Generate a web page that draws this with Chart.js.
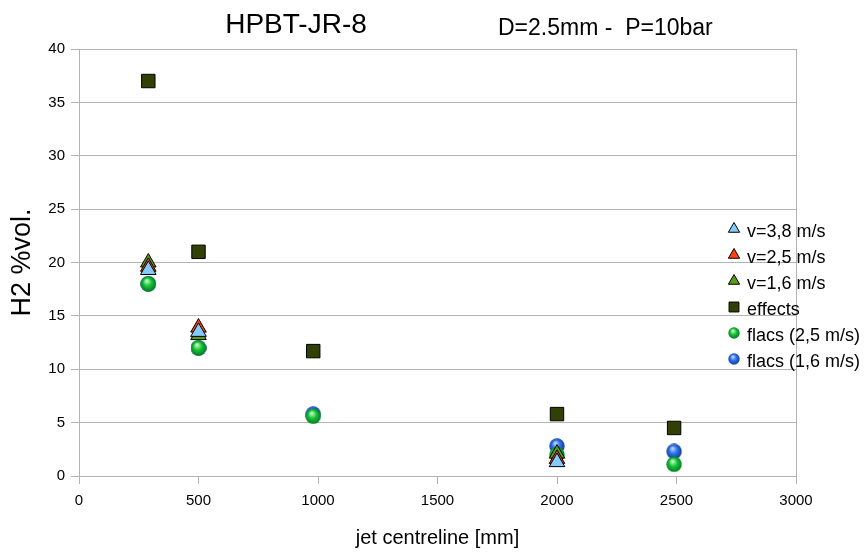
<!DOCTYPE html>
<html>
<head>
<meta charset="utf-8">
<script src="https://cdn.jsdelivr.net/npm/chart.js@4.4.1/dist/chart.umd.min.js"></script>
<style>
  html, body { margin: 0; padding: 0; background: #ffffff; }
  #wrap { width: 864px; height: 552px; position: relative; }
</style>
</head>
<body>
<div id="wrap"><canvas id="c" width="864" height="552"></canvas></div>
<script>
// ---- data ----
const chartTitle = "HPBT-JR-8";
const chartSubtitle = "D=2.5mm -  P=10bar";
const xAxisTitle = "jet centreline [mm]";
const yAxisTitle = "H2 %vol.";
const seriesNames = ["v=3,8 m/s", "v=2,5 m/s", "v=1,6 m/s", "effects", "flacs (2,5 m/s)", "flacs (1,6 m/s)"];

const xV38 = [290, 500, 2000];
const yV38 = [19.3, 13.5, 1.3];
const xV25 = [290, 500, 2000];
const yV25 = [19.6, 13.9, 1.6];
const xV16 = [290, 500, 2000];
const yV16 = [20.0, 13.2, 2.1];
const xEffects = [290, 500, 980, 2000, 2490];
const yEffects = [37.0, 21.0, 11.7, 5.8, 4.5];
const xFlacs25 = [290, 500, 980, 2000, 2490];
const yFlacs25 = [18.0, 12.0, 5.6, 2.0, 1.1];
const xFlacs16 = [290, 500, 980, 2000, 2490];
const yFlacs16 = [18.0, 12.0, 5.8, 2.8, 2.3];

const xTicks = [0, 500, 1000, 1500, 2000, 2500, 3000];
const yTicks = [0, 5, 10, 15, 20, 25, 30, 35, 40];

// ---- helpers ----
function pts(xs, ys) { return xs.map((x, i) => ({ x: x, y: ys[i] })); }

function sphere(size, light, mid, dark) {
  const c = document.createElement('canvas');
  c.width = size; c.height = size;
  const g = c.getContext('2d');
  const r = size / 2;
  const grad = g.createRadialGradient(r * 0.8, r * 0.6, r * 0.1, r, r, r);
  grad.addColorStop(0, light);
  grad.addColorStop(0.45, mid);
  grad.addColorStop(1, dark);
  g.fillStyle = grad;
  g.beginPath();
  g.arc(r, r, r - 0.3, 0, Math.PI * 2);
  g.fill();
  return c;
}
const greenBall = sphere(16, '#b8ffb8', '#19c23c', '#007a1c');
const blueBall = sphere(16, '#b0d0ff', '#2f72e8', '#123a9a');
const greenBallSmall = sphere(12, '#b8ffb8', '#19c23c', '#007a1c');
const blueBallSmall = sphere(12, '#b0d0ff', '#2f72e8', '#123a9a');

const FONT = "'Liberation Sans', Arial, sans-serif";

const datasets = [
  { label: seriesNames[0], data: pts(xV38, yV38), pointStyle: 'triangle', pointRadius: 9, backgroundColor: '#83caff', borderColor: '#000000', borderWidth: 1 },
  { label: seriesNames[1], data: pts(xV25, yV25), pointStyle: 'triangle', pointRadius: 9, backgroundColor: '#ff420e', borderColor: '#000000', borderWidth: 1 },
  { label: seriesNames[2], data: pts(xV16, yV16), pointStyle: 'triangle', pointRadius: 9, backgroundColor: '#579d1c', borderColor: '#000000', borderWidth: 1 },
  { label: seriesNames[3], data: pts(xEffects, yEffects), pointStyle: 'rect', pointRadius: 9.5, backgroundColor: '#314004', borderColor: '#000000', borderWidth: 1 },
  { label: seriesNames[4], data: pts(xFlacs25, yFlacs25), pointStyle: greenBall, pointRadius: 8, backgroundColor: '#19c23c', borderColor: '#19c23c' },
  { label: seriesNames[5], data: pts(xFlacs16, yFlacs16), pointStyle: blueBall, pointRadius: 8, backgroundColor: '#2f72e8', borderColor: '#2f72e8' }
];
datasets.forEach(d => { d.showLine = false; d.pointHoverRadius = d.pointRadius; });

const legendSymbols = [
  { style: 'triangle', fill: '#83caff' },
  { style: 'triangle', fill: '#ff420e' },
  { style: 'triangle', fill: '#579d1c' },
  { style: 'rect', fill: '#314004' },
  { style: greenBallSmall },
  { style: blueBallSmall }
];

const decorPlugin = {
  id: 'decor',
  afterDatasetsDraw(chart) {
    const ctx = chart.ctx;
    const a = chart.chartArea;
    ctx.save();
    // right border of plot
    ctx.strokeStyle = '#b3b3b3';
    ctx.lineWidth = 1;
    ctx.beginPath();
    ctx.moveTo(Math.round(a.right) + 0.5, a.top);
    ctx.lineTo(Math.round(a.right) + 0.5, a.bottom + 8);
    ctx.stroke();
    // titles
    ctx.fillStyle = '#000000';
    ctx.textBaseline = 'middle';
    ctx.textAlign = 'center';
    ctx.font = '28px ' + FONT;
    ctx.fillText(chartTitle, 296, 25);
    ctx.textAlign = 'left';
    ctx.font = '23px ' + FONT;
    ctx.fillText(chartSubtitle, 498, 29);
    // legend
    const sx = 734, tx = 747, y0 = 231, dy = 26;
    ctx.font = '18px ' + FONT;
    legendSymbols.forEach((s, i) => {
      const y = y0 + i * dy;
      if (typeof s.style === 'string') {
        ctx.fillStyle = s.fill;
        ctx.strokeStyle = '#000000';
        ctx.lineWidth = 1;
        Chart.helpers.drawPoint(ctx, { pointStyle: s.style, radius: s.style === 'rect' ? 7 : 6.5, rotation: 0, borderWidth: 1 }, sx, y - 2);
      } else {
        ctx.drawImage(s.style, sx - s.style.width / 2, y - 2 - s.style.height / 2);
      }
      ctx.fillStyle = '#000000';
      ctx.textAlign = 'left';
      ctx.fillText(seriesNames[i], tx, y + 1);
    });
    ctx.restore();
  }
};

new Chart(document.getElementById('c'), {
  type: 'scatter',
  data: { datasets: datasets },
  options: {
    responsive: false,
    animation: false,
    devicePixelRatio: 1,
    layout: { padding: { top: 49, right: 68, bottom: 0, left: 0 } },
    plugins: { legend: { display: false }, title: { display: false }, tooltip: { enabled: false } },
    scales: {
      x: {
        type: 'linear',
        min: 0, max: 3000,
        afterBuildTicks(scale) { scale.ticks = xTicks.map(v => ({ value: v })); },
        afterFit(scale) { scale.height = 76; },
        ticks: { color: '#000000', font: { family: FONT, size: 15 }, padding: 8, maxRotation: 0, callback: v => String(v) },
        grid: { drawOnChartArea: false, drawTicks: true, tickLength: 8, color: '#b3b3b3' },
        border: { display: true, color: '#b3b3b3' },
        title: { display: true, text: xAxisTitle, color: '#000000', font: { family: FONT, size: 20 }, padding: { top: 0, bottom: 2 } }
      },
      y: {
        type: 'linear',
        min: 0, max: 40,
        afterBuildTicks(scale) { scale.ticks = yTicks.map(v => ({ value: v })); },
        afterFit(scale) { scale.width = 79; },
        ticks: { color: '#000000', font: { family: FONT, size: 15 }, padding: 6, callback: v => String(v) },
        grid: { drawOnChartArea: true, drawTicks: true, tickLength: 8, color: '#b3b3b3' },
        border: { display: true, color: '#b3b3b3' },
        title: { display: true, text: yAxisTitle, color: '#000000', font: { family: FONT, size: 27 }, padding: { top: 6, bottom: 0 } }
      }
    }
  },
  plugins: [decorPlugin]
});
</script>
</body>
</html>
